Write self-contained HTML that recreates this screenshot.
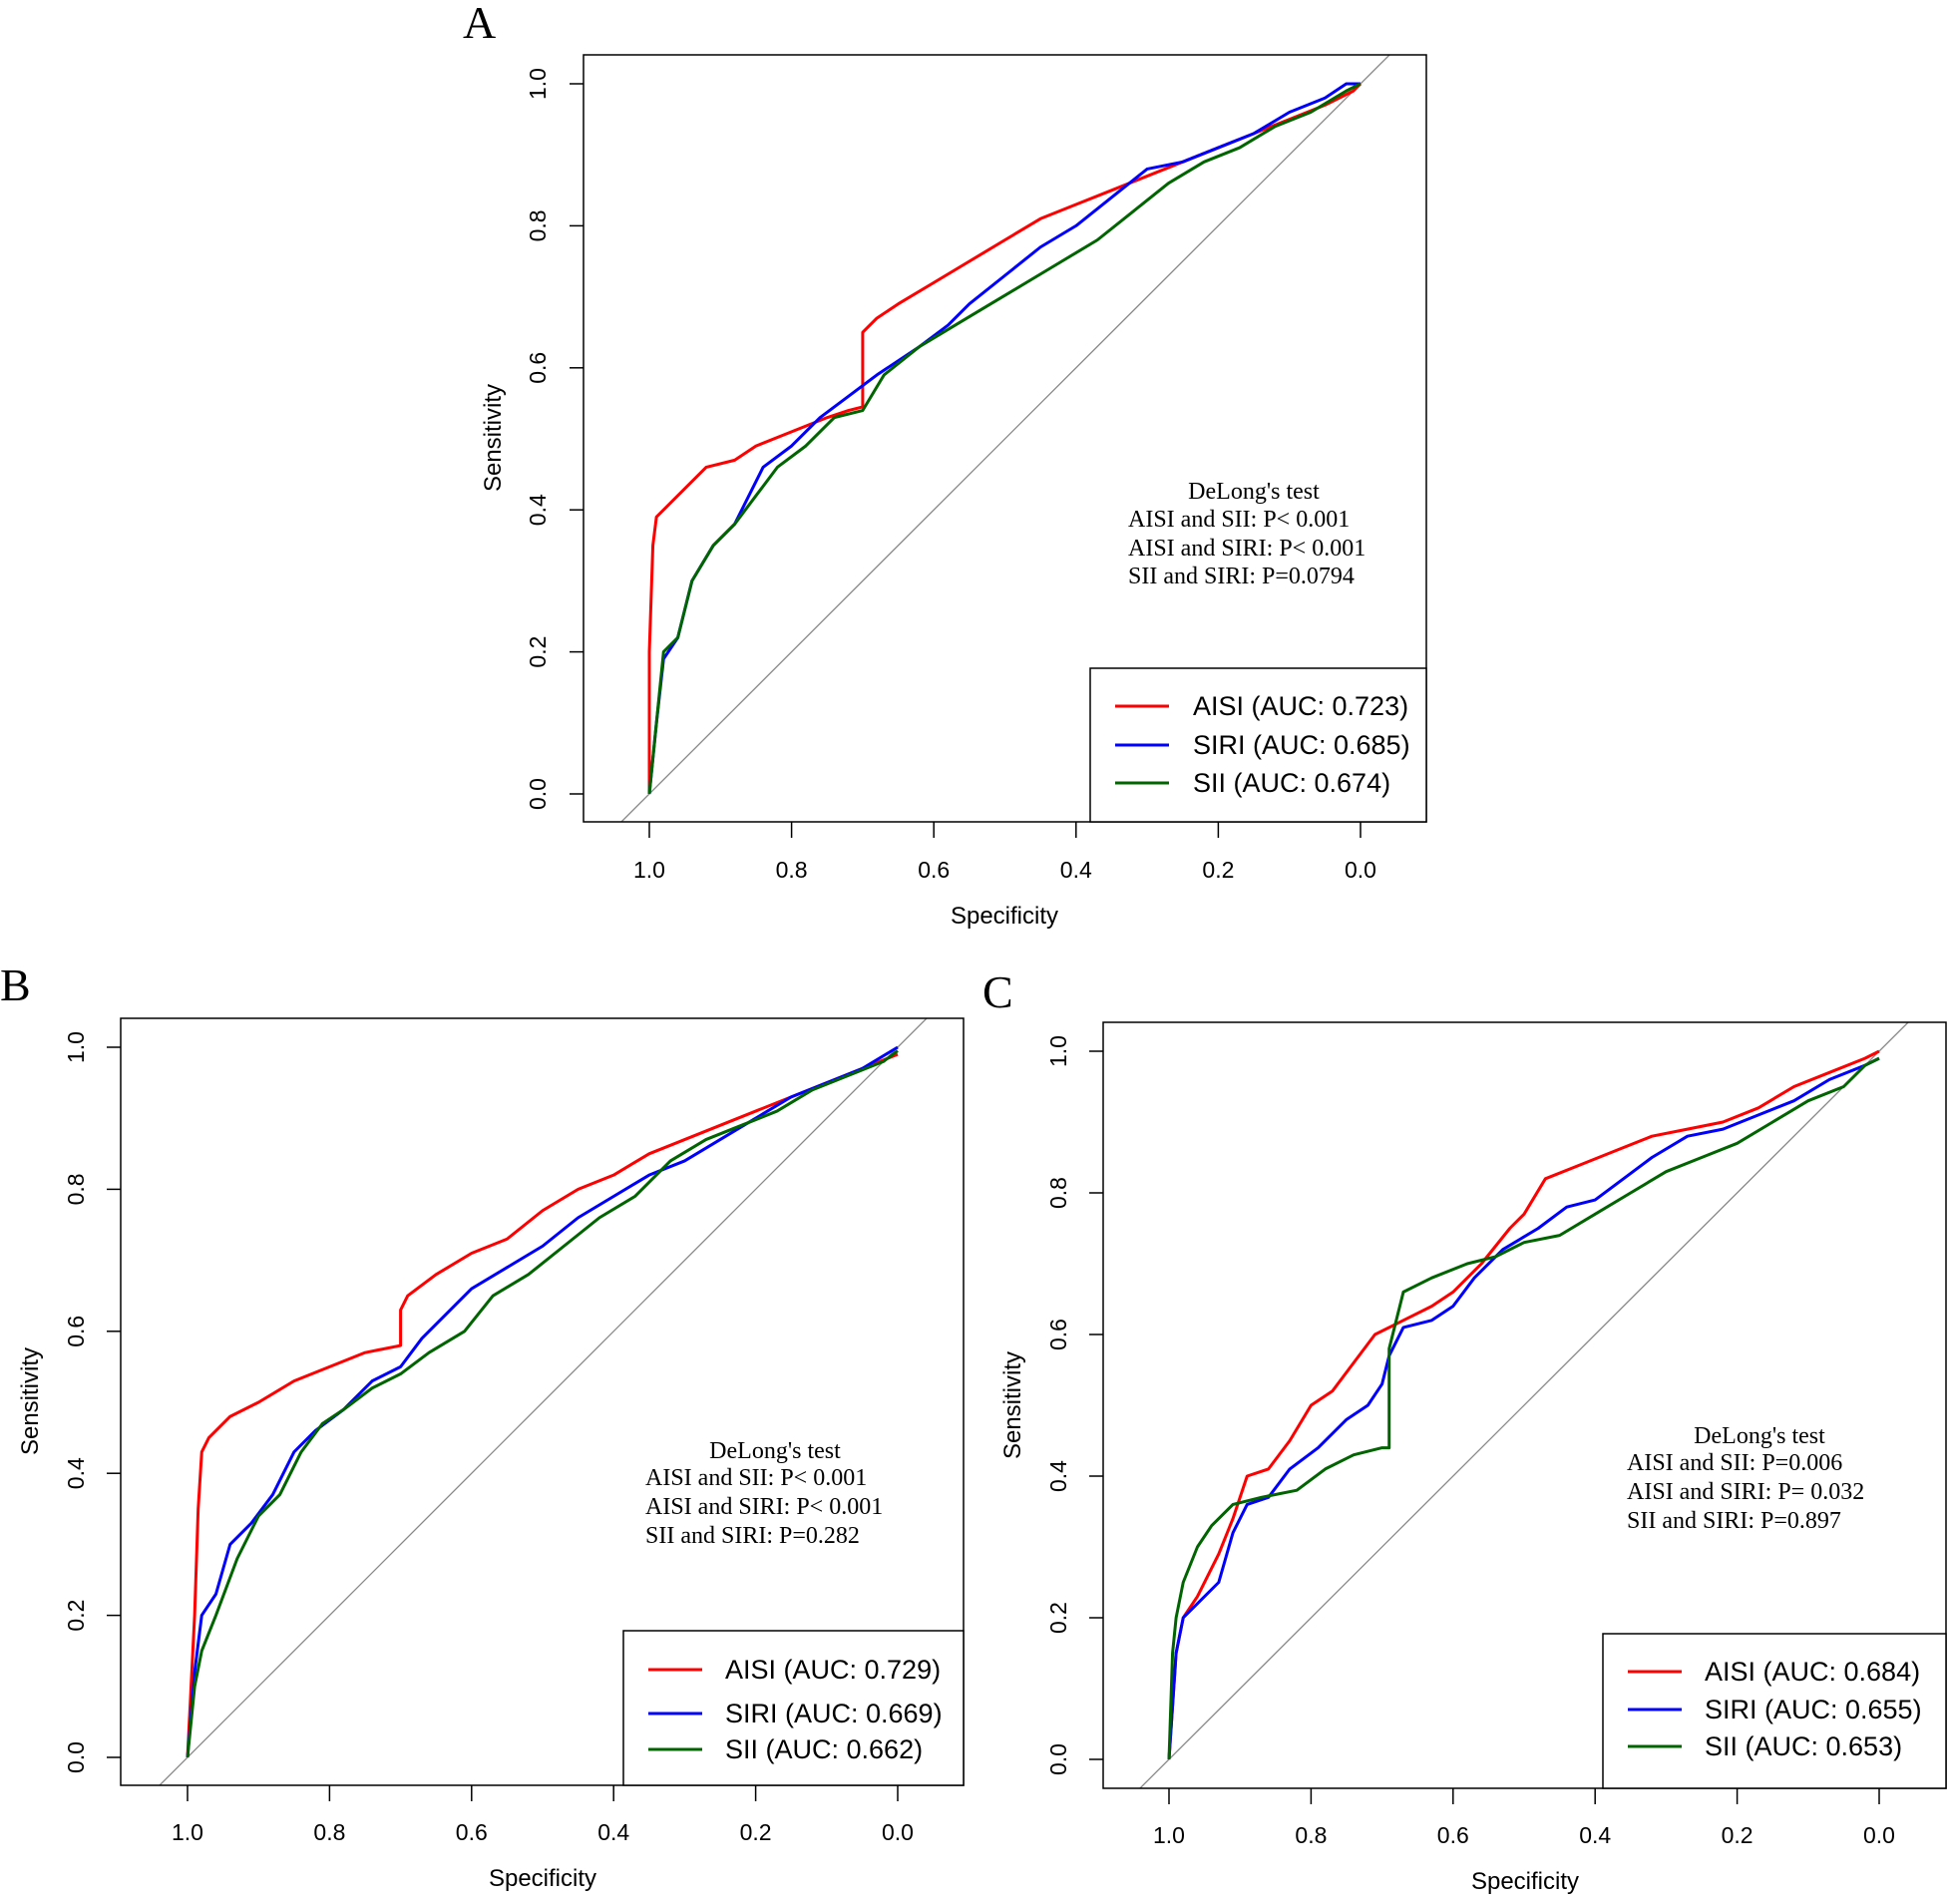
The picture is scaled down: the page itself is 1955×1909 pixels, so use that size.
<!DOCTYPE html>
<html><head><meta charset="utf-8"><style>
body{margin:0;background:#fff}
svg text{font-family:"Liberation Sans",sans-serif}
.serif{font-family:"Liberation Serif",serif}
</style></head><body>
<svg id="s" width="1955" height="1904" xmlns="http://www.w3.org/2000/svg"></svg>
<script>
const ticks=[1.0,0.8,0.6,0.4,0.2,0.0];
const tickLabels=["1.0","0.8","0.6","0.4","0.2","0.0"];
const seriesNames=["AISI","SIRI","SII"];
const colors=["#ff0000","#0000ff","#006400"];
const aucA=["0.723","0.685","0.674"];
const aucB=["0.729","0.669","0.662"];
const aucC=["0.684","0.655","0.653"];
const delongA=["DeLong's test","AISI and SII: P< 0.001","AISI and SIRI: P< 0.001","SII and SIRI: P=0.0794"];
const delongB=["DeLong's test","AISI and SII: P< 0.001","AISI and SIRI: P< 0.001","SII and SIRI: P=0.282"];
const delongC=["DeLong's test","AISI and SII: P=0.006"," AISI and SIRI: P= 0.032","SII and SIRI: P=0.897"];
const aAISI=[[1,0],[1,0.2],[0.995,0.35],[0.99,0.39],[0.97,0.41],[0.95,0.43],[0.92,0.46],[0.88,0.47],[0.85,0.49],[0.8,0.51],[0.75,0.53],[0.72,0.54],[0.7,0.545],[0.7,0.65],[0.68,0.67],[0.65,0.69],[0.6,0.72],[0.55,0.75],[0.5,0.78],[0.45,0.81],[0.4,0.83],[0.35,0.85],[0.3,0.87],[0.25,0.89],[0.2,0.91],[0.15,0.93],[0.1,0.95],[0.05,0.97],[0.01,0.99],[0,1]];
const aSIRI=[[1,0],[0.99,0.1],[0.98,0.19],[0.96,0.22],[0.94,0.3],[0.91,0.35],[0.88,0.38],[0.86,0.42],[0.84,0.46],[0.8,0.49],[0.76,0.53],[0.72,0.56],[0.68,0.59],[0.62,0.63],[0.58,0.66],[0.55,0.69],[0.5,0.73],[0.45,0.77],[0.4,0.8],[0.35,0.84],[0.3,0.88],[0.25,0.89],[0.2,0.91],[0.15,0.93],[0.1,0.96],[0.05,0.98],[0.02,1],[0,1]];
const aSII=[[1,0],[0.99,0.1],[0.98,0.2],[0.96,0.22],[0.94,0.3],[0.91,0.35],[0.88,0.38],[0.85,0.42],[0.82,0.46],[0.78,0.49],[0.74,0.53],[0.7,0.54],[0.67,0.59],[0.62,0.63],[0.57,0.66],[0.52,0.69],[0.47,0.72],[0.42,0.75],[0.37,0.78],[0.32,0.82],[0.27,0.86],[0.22,0.89],[0.17,0.91],[0.12,0.94],[0.07,0.96],[0.02,0.99],[0,1]];
const bAISI=[[1,0],[0.995,0.1],[0.99,0.2],[0.985,0.35],[0.98,0.43],[0.97,0.45],[0.94,0.48],[0.9,0.5],[0.85,0.53],[0.8,0.55],[0.75,0.57],[0.7,0.58],[0.7,0.63],[0.69,0.65],[0.65,0.68],[0.6,0.71],[0.55,0.73],[0.5,0.77],[0.45,0.8],[0.4,0.82],[0.35,0.85],[0.3,0.87],[0.25,0.89],[0.2,0.91],[0.15,0.93],[0.1,0.95],[0.05,0.97],[0,0.99]];
const bSIRI=[[1,0],[0.99,0.12],[0.98,0.2],[0.96,0.23],[0.94,0.3],[0.91,0.33],[0.88,0.37],[0.85,0.43],[0.82,0.46],[0.78,0.49],[0.74,0.53],[0.7,0.55],[0.67,0.59],[0.63,0.63],[0.6,0.66],[0.55,0.69],[0.5,0.72],[0.45,0.76],[0.4,0.79],[0.35,0.82],[0.3,0.84],[0.25,0.87],[0.2,0.9],[0.15,0.93],[0.1,0.95],[0.05,0.97],[0,1]];
const bSII=[[1,0],[0.99,0.1],[0.98,0.15],[0.96,0.2],[0.93,0.28],[0.9,0.34],[0.87,0.37],[0.84,0.43],[0.81,0.47],[0.78,0.49],[0.74,0.52],[0.7,0.54],[0.66,0.57],[0.61,0.6],[0.57,0.65],[0.52,0.68],[0.47,0.72],[0.42,0.76],[0.37,0.79],[0.32,0.84],[0.27,0.87],[0.22,0.89],[0.17,0.91],[0.12,0.94],[0.07,0.96],[0.02,0.98],[0,0.995]];
const cAISI=[[1,0],[0.99,0.15],[0.98,0.2],[0.96,0.23],[0.93,0.29],[0.91,0.34],[0.89,0.4],[0.86,0.41],[0.83,0.45],[0.8,0.5],[0.77,0.52],[0.74,0.56],[0.71,0.6],[0.67,0.62],[0.63,0.64],[0.6,0.66],[0.56,0.7],[0.52,0.75],[0.5,0.77],[0.47,0.82],[0.42,0.84],[0.37,0.86],[0.32,0.88],[0.27,0.89],[0.22,0.9],[0.17,0.92],[0.12,0.95],[0.07,0.97],[0.02,0.99],[0,1]];
const cSIRI=[[1,0],[0.99,0.15],[0.98,0.2],[0.96,0.22],[0.93,0.25],[0.91,0.32],[0.89,0.36],[0.86,0.37],[0.83,0.41],[0.79,0.44],[0.75,0.48],[0.72,0.5],[0.7,0.53],[0.69,0.57],[0.67,0.61],[0.63,0.62],[0.6,0.64],[0.57,0.68],[0.53,0.72],[0.48,0.75],[0.44,0.78],[0.4,0.79],[0.36,0.82],[0.32,0.85],[0.27,0.88],[0.22,0.89],[0.17,0.91],[0.12,0.93],[0.07,0.96],[0.02,0.98],[0,0.99]];
const cSII=[[1,0],[0.995,0.15],[0.99,0.2],[0.98,0.25],[0.96,0.3],[0.94,0.33],[0.91,0.36],[0.87,0.37],[0.82,0.38],[0.78,0.41],[0.74,0.43],[0.7,0.44],[0.69,0.44],[0.69,0.58],[0.67,0.66],[0.63,0.68],[0.58,0.7],[0.54,0.71],[0.5,0.73],[0.45,0.74],[0.4,0.77],[0.35,0.8],[0.3,0.83],[0.25,0.85],[0.2,0.87],[0.15,0.9],[0.1,0.93],[0.05,0.95],[0.02,0.98],[0,0.99]];

const S=document.getElementById('s'),NS='http://www.w3.org/2000/svg';
function mk(t,a,p,txt){const e=document.createElementNS(NS,t);for(const k in a)e.setAttribute(k,a[k]);if(txt!==undefined)e.textContent=txt;(p||S).appendChild(e);return e;}

function panel(P){
  const g=mk('g',{});
  
  
  const X=v=>P.x0+(1-v)*(P.x1-P.x0), Y=v=>P.y0-(v)*(P.y0-P.y1);
  const cid='clip'+P.id;
  const cp=mk('clipPath',{id:cid},g);mk('rect',{x:P.bx,y:P.by,width:P.bw,height:P.bh},cp);
  const d=mk('line',{x1:X(1+ (P.by+P.bh-Y(0))/(Y(0)-Y(1)) ),y1:P.by+P.bh,x2:X(-(Y(1)-P.by)/(Y(0)-Y(1))),y2:P.by,stroke:'#888','stroke-width':1.3,'clip-path':'url(#'+cid+')'},g);
  
  
  P.curves.forEach((c,i)=>{
    const pl=mk('polyline',{points:c.map(p=>X(p[0])+','+Y(p[1])).join(' '),fill:'none',stroke:colors[i],'stroke-width':3,'stroke-linejoin':'round'},g);
    
    
  });
  const b=mk('rect',{x:P.bx,y:P.by,width:P.bw,height:P.bh,fill:'none',stroke:'#000','stroke-width':1.5},g);
  
  
  const by2=P.by+P.bh;
  ticks.forEach((t,i)=>{
    mk('line',{x1:X(t),x2:X(t),y1:by2,y2:by2+16,stroke:'#000','stroke-width':1.5},g);
    const tx=mk('text',{x:X(t),y:P.xty,'font-size':23,'text-anchor':'middle'},g,tickLabels[i]);
    
    
    mk('line',{x1:P.bx,x2:P.bx-14,y1:Y(t),y2:Y(t),stroke:'#000','stroke-width':1.5},g);
    const ty=mk('text',{x:P.ytx,y:Y(t),'font-size':23,'text-anchor':'middle',transform:`rotate(-90 ${P.ytx} ${Y(t)})`},g,tickLabels[i]);
    
    
  });
  const xl=mk('text',{x:P.xlx,y:P.xly,'font-size':24,'text-anchor':'middle'},g,'Specificity');
  
  
  const yl=mk('text',{x:P.ylx,y:P.yly,'font-size':24,'text-anchor':'middle',transform:`rotate(-90 ${P.ylx} ${P.yly})`},g,'Sensitivity');
  
  
  const pl=mk('text',{x:P.lx,y:P.ly,'font-size':46,'class':'serif'},g,P.id);
  
  
  P.delong.forEach((s,i)=>{
    const t=mk('text',{x:i==0?P.dcx:P.dlx,y:P.dy[i],'font-size':24,'class':'serif','text-anchor':i==0?'middle':'start','xml:space':'preserve'},g,s);
    
    
  });
  const lg=mk('g',{},g);
  
  
  mk('rect',{x:P.gx,y:P.gy,width:P.bx+P.bw-P.gx,height:by2-P.gy,fill:'#fff',stroke:'#000','stroke-width':1.5},lg);
  P.auc.forEach((a,i)=>{
    mk('line',{x1:P.lsx,x2:P.lsx+54,y1:P.ry[i],y2:P.ry[i],stroke:colors[i],'stroke-width':3},lg);
    const t=mk('text',{x:P.ltx,y:P.ry[i]+9,'font-size':27},lg,`${seriesNames[i]} (AUC: ${a})`);
    
    
  });
}
panel({id:'A',x0:651,x1:1364,y0:796,y1:84,bx:585,by:55,bw:845,bh:769,xty:880,ytx:547,xlx:1007,xly:926,ylx:502,yly:439,lx:464,ly:38,
  curves:[aAISI,aSIRI,aSII],delong:delongA,dcx:1257,dlx:1131,dy:[500,528,557,585],auc:aucA,gx:1093,gy:670,lsx:1118,ltx:1196,ry:[708,747,785]});
panel({id:'B',x0:188,x1:900,y0:1762,y1:1050,bx:121,by:1021,bw:845,bh:769,xty:1845,ytx:84,xlx:544,xly:1891,ylx:38,yly:1405,lx:0,ly:1003,
  curves:[bAISI,bSIRI,bSII],delong:delongB,dcx:777,dlx:647,dy:[1462,1489,1518,1547],auc:aucB,gx:625,gy:1635,lsx:650,ltx:727,ry:[1674,1718,1754]});
panel({id:'C',x0:1172,x1:1884,y0:1764,y1:1054,bx:1106,by:1025,bw:845,bh:768,xty:1848,ytx:1069,xlx:1529,xly:1894,ylx:1023,yly:1409,lx:985,ly:1010,
  curves:[cAISI,cSIRI,cSII],delong:delongC,dcx:1764,dlx:1631,dy:[1447,1474,1503,1532],auc:aucC,gx:1607,gy:1638,lsx:1632,ltx:1709,ry:[1676,1714,1751]});
</script>
</body></html>
